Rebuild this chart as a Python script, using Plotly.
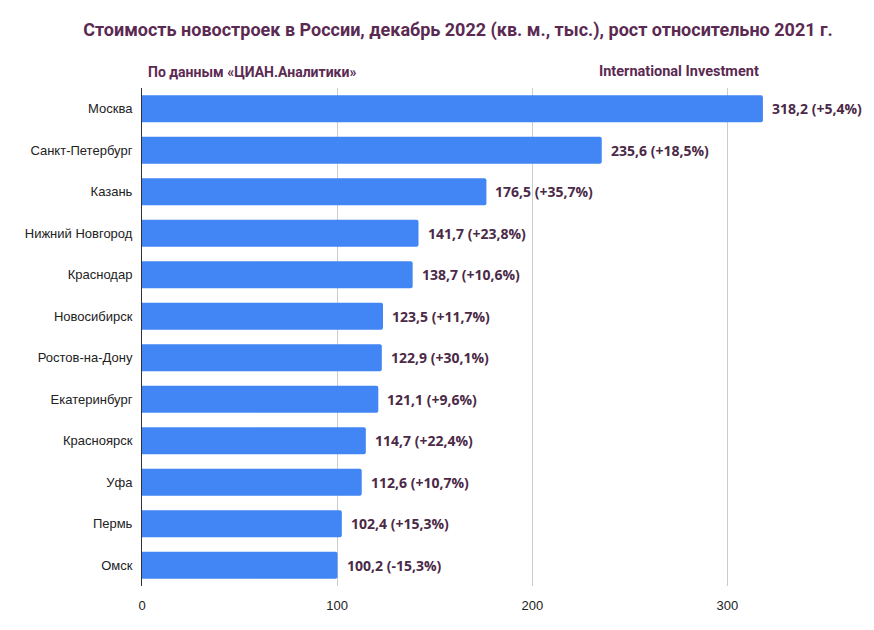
import plotly.graph_objects as go

cities = ["Москва", "Санкт-Петербург", "Казань", "Нижний Новгород", "Краснодар",
          "Новосибирск", "Ростов-на-Дону", "Екатеринбург", "Красноярск", "Уфа",
          "Пермь", "Омск"]
prices = [318.2, 235.6, 176.5, 141.7, 138.7, 123.5, 122.9, 121.1, 114.7, 112.6, 102.4, 100.2]
growth = ["+5,4%", "+18,5%", "+35,7%", "+23,8%", "+10,6%", "+11,7%", "+30,1%",
          "+9,6%", "+22,4%", "+10,7%", "+15,3%", "-15,3%"]
x_ticks = [0, 100, 200, 300]

label_color = "#4b2a47"
title_color = "#5b2a52"
cond_font = "Roboto"

fig = go.Figure()
fig.add_trace(go.Bar(
    x=prices, y=cities, orientation="h",
    marker=dict(color="#4285f4", cornerradius=2, line=dict(width=0)),
    hoverinfo="skip",
))

for c, p, g in zip(cities, prices, growth):
    lbl = f"{p:.1f}".replace(".", ",") + f" ({g})"
    fig.add_annotation(x=p, y=c, text=lbl, showarrow=False, xanchor="left",
                       xshift=7, font=dict(family="Open Sans", size=14, color=label_color,
                                           weight="bold"))

fig.update_layout(
    title=dict(text="Стоимость новостроек в России, декабрь 2022 (кв. м., тыс.), рост относительно 2021 г.",
               xref="container", yref="container", x=0.524, y=1 - 30 / 630,
               xanchor="center", yanchor="middle",
               font=dict(family=cond_font, size=18, color=title_color, weight="bold")),
)
fig.add_annotation(text="По данным «ЦИАН.Аналитики»", xref="x", yref="paper", x=0, y=1,
                   xanchor="left", yanchor="bottom", xshift=4, yshift=6, showarrow=False,
                   font=dict(family=cond_font, size=14, color=title_color, weight="bold"))
fig.add_annotation(text="International Investment", xref="x", yref="paper", x=317, y=1,
                   xanchor="right", yanchor="bottom", yshift=6, showarrow=False,
                   font=dict(family=cond_font, size=14.5, color=title_color, weight="bold"))

fig.update_layout(
    width=874, height=630,
    margin=dict(l=142, r=10, t=88, b=44),
    paper_bgcolor="white", plot_bgcolor="white",
    bargap=0.35,
    showlegend=False,
    xaxis=dict(range=[0, 370], tickvals=x_ticks, showgrid=True, gridcolor="#cccccc",
               gridwidth=1, zeroline=False, showline=False, ticklabelstandoff=10,
               tickfont=dict(family="Liberation Sans", size=13, color="#222222")),
    yaxis=dict(categoryorder="array", categoryarray=cities, autorange="reversed",
               showline=True, linecolor="#333333", linewidth=1, ticks="",
               ticklabelstandoff=6,
               tickfont=dict(family="Liberation Sans", size=13, color="#222222")),
)

fig.write_html("out.html")
